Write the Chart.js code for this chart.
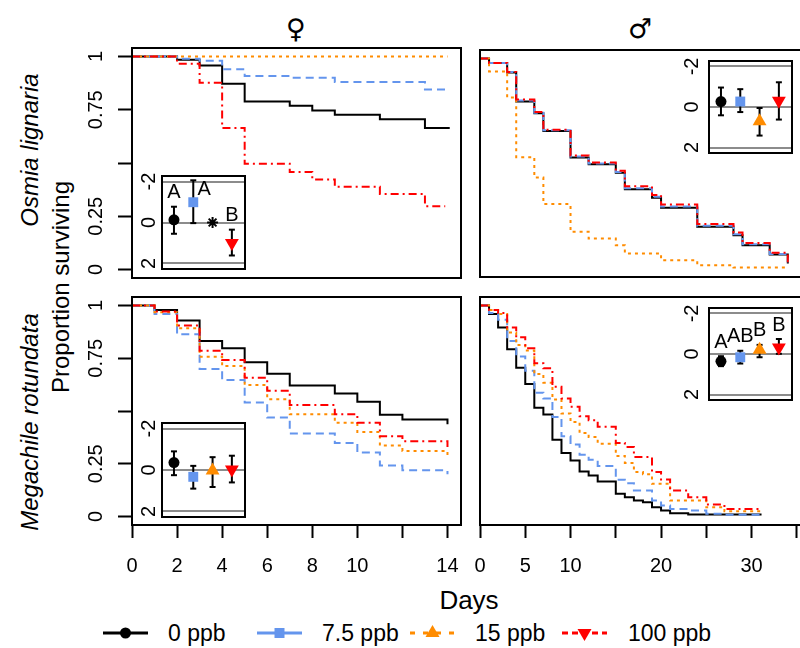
<!DOCTYPE html>
<html>
<head>
<meta charset="utf-8">
<script src="https://cdn.jsdelivr.net/npm/chart.js@4.4.1/dist/chart.umd.min.js"></script>
<style>
  html, body { margin: 0; padding: 0; background: #fff; overflow: hidden; }
  #wrap { position: relative; width: 800px; height: 648px; overflow: hidden; background: #fff;
          font-family: "Liberation Sans", Arial, Helvetica, sans-serif; color: #000; }
  #wrap canvas { position: absolute; left: 0; top: 0; }
  .lbl { position: absolute; white-space: nowrap; line-height: 1; transform: translate(-50%, -50%); }
  .rot { transform: translate(-50%, -50%) rotate(-90deg); }
  .leg { position: absolute; white-space: nowrap; line-height: 1; font-size: 23px; transform: translateY(-50%); }
</style>
</head>
<body>
<div id="wrap">
  <div class="lbl" style="left:296px; top:28px; font: 27px 'DejaVu Sans';">♀</div>
  <div class="lbl" style="left:640px; top:28px; font: 27px 'DejaVu Sans';">♂</div>
  <div class="lbl rot" style="left:30px; top:150px; font-size:24px; font-style:italic;">Osmia lignaria</div>
  <div class="lbl rot" style="left:61px; top:287px; font-size:24px;">Proportion surviving</div>
  <div class="lbl rot" style="left:30px; top:422px; font-size:24px; font-style:italic;">Megachile rotundata</div>
  <div class="lbl" style="left:469px; top:600px; font-size:26px;">Days</div>
  <div class="leg" style="left:168px; top:633px;">0 ppb</div>
  <div class="leg" style="left:322px; top:633px;">7.5 ppb</div>
  <div class="leg" style="left:475px; top:633px;">15 ppb</div>
  <div class="leg" style="left:628px; top:633px;">100 ppb</div>
</div>
<script>
// ---------- data ----------
const groups = ['0 ppb', '7.5 ppb', '15 ppb', '100 ppb'];
const colors = ['#000000', '#6495ED', '#FF8C00', '#FF0000'];

// Osmia lignaria, females
const osmiaFemaleDays = [
  [0, 2, 3, 4, 5, 7, 8, 9, 11, 13, 14.1],
  [0, 2, 3, 4, 5, 7, 9, 13, 14.1],
  [0, 14],
  [0, 2, 3, 4, 5, 7, 8, 9, 11, 13, 13.9]
];
const osmiaFemaleSurv = [
  [1, 0.985, 0.958, 0.872, 0.789, 0.769, 0.747, 0.727, 0.705, 0.664, 0.664],
  [1, 0.99, 0.98, 0.94, 0.908, 0.9, 0.88, 0.845, 0.845],
  [1, 1],
  [1, 0.966, 0.877, 0.664, 0.497, 0.458, 0.423, 0.388, 0.355, 0.297, 0.297]
];

// Osmia lignaria, males
const osmiaMaleDays = [
  [0, 1, 3, 4, 6, 7, 10, 12, 15, 16, 19, 20, 24, 28, 29, 32, 34],
  [0, 1, 3, 4, 6, 7, 10, 12, 15, 16, 19, 20, 24, 28, 29, 32, 34],
  [0, 1, 3, 4, 6, 7, 10, 12, 15, 16, 20, 24, 28, 33.7],
  [0, 1, 3, 4, 6, 7, 10, 12, 15, 16, 19, 20, 24, 28, 29, 32, 34]
];
const osmiaMaleSurv = [
  [1, 0.978, 0.933, 0.795, 0.739, 0.655, 0.528, 0.496, 0.456, 0.377, 0.337, 0.29, 0.199, 0.159, 0.111, 0.067, 0.024],
  [1, 0.978, 0.935, 0.8, 0.742, 0.658, 0.533, 0.5, 0.46, 0.382, 0.342, 0.295, 0.204, 0.163, 0.116, 0.07, 0.03],
  [1, 0.938, 0.814, 0.53, 0.433, 0.307, 0.175, 0.143, 0.111, 0.072, 0.04, 0.016, 0.005, 0.005],
  [1, 0.978, 0.935, 0.805, 0.745, 0.66, 0.538, 0.505, 0.465, 0.392, 0.35, 0.305, 0.212, 0.172, 0.122, 0.075, 0.03]
];

// Megachile rotundata, females
const megaFemaleDays = [
  [0, 1, 2, 3, 4, 5, 6, 7, 9, 10, 11, 12, 14],
  [0, 1, 2, 3, 4, 5, 6, 7, 9, 10, 11, 12, 14],
  [0, 1, 2, 3, 4, 5, 6, 7, 9, 10, 11, 12, 14],
  [0, 1, 2, 3, 4, 5, 6, 7, 9, 10, 11, 12, 14]
];
const megaFemaleSurv = [
  [1, 0.979, 0.929, 0.832, 0.797, 0.731, 0.677, 0.621, 0.583, 0.544, 0.482, 0.46, 0.437],
  [1, 0.959, 0.864, 0.699, 0.647, 0.54, 0.469, 0.393, 0.349, 0.303, 0.242, 0.219, 0.2],
  [1, 0.968, 0.892, 0.757, 0.713, 0.623, 0.556, 0.485, 0.444, 0.4, 0.336, 0.311, 0.29],
  [1, 0.971, 0.905, 0.785, 0.742, 0.658, 0.596, 0.528, 0.485, 0.444, 0.38, 0.357, 0.33]
];

// Megachile rotundata, males
const megaMaleDays = [
  [0, 1, 2, 3, 4, 5, 6, 7, 8, 9, 10, 11, 12, 13, 15, 16, 17, 18, 19, 20, 21, 23, 31.1],
  [0, 1, 2, 3, 4, 5, 6, 7, 8, 9, 10, 11, 12, 13, 15, 16, 17, 19, 20, 21, 23, 25, 27, 31.1],
  [0, 1, 2, 3, 4, 5, 6, 7, 8, 9, 10, 11, 12, 13, 15, 16, 17, 18, 19, 21, 25, 27, 31.1],
  [0, 1, 2, 3, 4, 5, 6, 7, 8, 9, 10, 11, 12, 13, 15, 16, 17, 19, 20, 21, 23, 25, 27, 31.1]
];
const megaMaleSurv = [
  [1, 0.959, 0.895, 0.792, 0.705, 0.628, 0.515, 0.483, 0.364, 0.301, 0.266, 0.214, 0.195, 0.166, 0.108, 0.092, 0.076, 0.068, 0.044, 0.029, 0.016, 0.01, 0.01],
  [1, 0.964, 0.932, 0.832, 0.758, 0.691, 0.586, 0.559, 0.472, 0.38, 0.341, 0.293, 0.269, 0.239, 0.174, 0.158, 0.124, 0.076, 0.052, 0.036, 0.029, 0.013, 0.008, 0.008],
  [1, 0.979, 0.959, 0.872, 0.813, 0.786, 0.675, 0.634, 0.555, 0.488, 0.448, 0.396, 0.377, 0.345, 0.287, 0.254, 0.211, 0.2, 0.155, 0.076, 0.044, 0.025, 0.025],
  [1, 0.979, 0.964, 0.895, 0.849, 0.797, 0.726, 0.702, 0.615, 0.559, 0.52, 0.475, 0.456, 0.425, 0.349, 0.33, 0.282, 0.211, 0.176, 0.124, 0.092, 0.057, 0.036, 0.036]
];

// inset effects (estimate, lower/upper bound), y axis is reversed
const osmiaFemaleEff = [-0.13, -0.99, 0, 1.0];
const osmiaFemaleLo = [-0.77, -2.06, null, 0.35];
const osmiaFemaleHi = [0.55, 0.03, null, 1.61];
const osmiaFemaleLetters = ['A', 'A', '', 'B'];

const osmiaMaleEff = [-0.27, -0.27, 0.7, -0.31];
const osmiaMaleLo = [-0.96, -0.88, 0.05, -1.22];
const osmiaMaleHi = [0.41, 0.25, 1.41, 0.62];
const osmiaMaleLetters = ['', '', '', ''];

const megaFemaleEff = [-0.36, 0.33, 0.03, -0.03];
const megaFemaleLo = [-0.9, -0.2, -0.62, -0.69];
const megaFemaleHi = [0.25, 0.9, 0.82, 0.6];
const megaFemaleLetters = ['', '', '', ''];

const megaMaleEff = [0.36, 0.16, -0.21, -0.32];
const megaMaleLo = [0.11, -0.16, -0.45, -0.74];
const megaMaleHi = [0.6, 0.47, 0.16, -0.01];
const megaMaleLetters = ['A', 'AB', 'B', 'B'];

// ticks
const leftDayTicks = [0, 2, 4, 6, 8, 10, 12, 14];
const leftDayLabels = ['0', '2', '4', '6', '8', '10', '', '14'];
const rightDayTicks = [0, 5, 10, 15, 20, 25, 30, 35];
const rightDayLabels = ['0', '5', '10', '', '20', '', '30', ''];
const survTicks = [0, 0.25, 0.5, 0.75, 1];
const survLabels = ['0', '0.25', '', '0.75', '1'];
const insetTicks = [-2, 0, 2];
const insetLabels = ['-2', '0', '2'];

// ---------- drawing ----------
const W = 830, H = 648;
const FONT = '"Liberation Sans", Arial, Helvetica, sans-serif';
const dashes = [[], [8, 5], [3, 4], [8, 4, 2, 4]];
const wrap = document.getElementById('wrap');

function addCanvas() {
  const c = document.createElement('canvas');
  c.width = W; c.height = H;
  wrap.appendChild(c);
  return c;
}

function framePlugin(lw, fill) {
  return {
    id: 'frame',
    beforeDraw(chart) {
      if (!fill) return;
      const a = chart.chartArea, ctx = chart.ctx;
      ctx.save(); ctx.fillStyle = '#fff';
      ctx.fillRect(a.left, a.top, a.right - a.left, a.bottom - a.top);
      ctx.restore();
    },
    afterDraw(chart) {
      const a = chart.chartArea, ctx = chart.ctx;
      ctx.save(); ctx.strokeStyle = '#000'; ctx.lineWidth = lw;
      ctx.strokeRect(a.left, a.top, a.right - a.left, a.bottom - a.top);
      ctx.restore();
    }
  };
}

function survivalPanel(box, days, surv, o) {
  const datasets = days.map((d, g) => ({
    label: groups[g],
    data: d.map((t, i) => ({ x: t, y: surv[g][i] })),
    borderColor: colors[g],
    borderWidth: 2,
    borderDash: dashes[g],
    stepped: 'before',
    pointRadius: 0,
    fill: false,
    order: 4 - g
  }));
  new Chart(addCanvas(), {
    type: 'line',
    data: { datasets },
    options: {
      responsive: false, animation: false, devicePixelRatio: 1,
      layout: { padding: { left: o.yAxis ? 0 : box.l, top: box.t, right: W - box.r,
                           bottom: H - box.b - (o.xAxis ? 60 : 0) } },
      plugins: { legend: { display: false }, tooltip: { enabled: false } },
      scales: {
        x: {
          type: 'linear', min: 0, max: o.xMax, display: !!o.xAxis,
          afterBuildTicks: s => { s.ticks = o.xTicks.map(v => ({ value: v })); },
          afterFit: s => { s.height = o.xAxis ? 60 : 0; },
          grid: { drawOnChartArea: false, drawTicks: true, tickLength: 13, tickWidth: 2, tickColor: '#000' },
          border: { display: false },
          ticks: { autoSkip: false, minRotation: 0, maxRotation: 0, padding: 16, color: '#000',
                   font: { family: FONT, size: 20 }, callback: (v, i) => o.xLabels[i] }
        },
        y: {
          type: 'linear', min: -0.04, max: 1.04, display: !!o.yAxis,
          afterBuildTicks: s => { s.ticks = survTicks.map(v => ({ value: v })); },
          afterFit: s => { s.width = o.yAxis ? box.l : 0; },
          grid: { drawOnChartArea: false, drawTicks: true, tickLength: 14, tickWidth: 2, tickColor: '#000' },
          border: { display: false },
          ticks: { autoSkip: false, minRotation: 90, maxRotation: 90, crossAlign: 'center', padding: 2,
                   color: '#000', font: { family: FONT, size: 20 }, callback: (v, i) => survLabels[i] }
        }
      }
    },
    plugins: [framePlugin(2, false)]
  });
}

function insetPanel(box, eff, lo, hi, letters, labelPad) {
  const xs = eff.map((e, i) => i + 1);
  const noBar = lo.map(v => v === null);
  const bars = [], caps = [];
  xs.forEach((x, i) => {
    if (noBar[i]) return;
    bars.push({ x, y: lo[i] }, { x, y: hi[i] }, { x, y: null });
    caps.push({ x, y: lo[i] }, { x, y: hi[i] });
  });
  const letterPlugin = {
    id: 'letters',
    afterDatasetsDraw(chart) {
      const ctx = chart.ctx, sx = chart.scales.x, sy = chart.scales.y;
      ctx.save();
      ctx.fillStyle = '#000'; ctx.font = '20px ' + FONT;
      ctx.textAlign = 'center'; ctx.textBaseline = 'middle';
      letters.forEach((t, i) => {
        if (!t) return;
        const top = sy.getPixelForValue(lo[i]);
        if (top - sy.top < 18) {
          ctx.fillText(t, sx.getPixelForValue(xs[i]) + 11, top + 9);
        } else {
          ctx.fillText(t, sx.getPixelForValue(xs[i]), top - 14);
        }
      });
      ctx.restore();
    }
  };
  new Chart(addCanvas(), {
    type: 'scatter',
    data: {
      datasets: [
        {
          data: xs.map((x, i) => ({ x, y: eff[i] })),
          pointStyle: xs.map((x, i) => noBar[i] ? 'star' : ['circle', 'rect', 'triangle', 'triangle'][i]),
          pointRotation: [0, 0, 0, 180],
          pointRadius: xs.map((x, i) => noBar[i] ? 5.5 : [5.5, 7, 8, 8][i]),
          pointBackgroundColor: colors,
          pointBorderColor: xs.map((x, i) => noBar[i] ? '#000' : colors[i]),
          pointBorderWidth: xs.map((x, i) => noBar[i] ? 2 : 0),
          order: 0
        },
        {
          data: caps, pointStyle: 'line', pointRadius: 3,
          pointBorderColor: '#000', pointBorderWidth: 2, order: 1
        },
        {
          data: bars, showLine: true, spanGaps: false, borderColor: '#000', borderWidth: 2,
          pointRadius: 0, order: 2
        }
      ]
    },
    options: {
      responsive: false, animation: false, devicePixelRatio: 1,
      layout: { padding: { left: 0, top: box.t, right: W - box.r, bottom: H - box.b } },
      plugins: { legend: { display: false }, tooltip: { enabled: false } },
      scales: {
        x: { type: 'linear', min: 0.38, max: 4.68, display: false },
        y: {
          type: 'linear', min: -2.27, max: 2.27, reverse: true,
          afterBuildTicks: s => { s.ticks = insetTicks.map(v => ({ value: v })); },
          afterFit: s => { s.width = box.l; },
          grid: { color: '#8c8c8c', lineWidth: 2, drawTicks: false },
          border: { display: false },
          ticks: { autoSkip: false, minRotation: 90, maxRotation: 90, crossAlign: 'center', padding: labelPad,
                   color: '#000', font: { family: FONT, size: 20 }, callback: (v, i) => insetLabels[i] }
        }
      }
    },
    plugins: [framePlugin(2, true), letterPlugin]
  });
}

survivalPanel({ l: 132, t: 48, r: 461, b: 278 }, osmiaFemaleDays, osmiaFemaleSurv,
  { yAxis: true, xAxis: false, xMax: 14.6, xTicks: leftDayTicks, xLabels: leftDayLabels });
survivalPanel({ l: 480, t: 50, r: 824, b: 277 }, osmiaMaleDays, osmiaMaleSurv,
  { yAxis: false, xAxis: false, xMax: 38, xTicks: rightDayTicks, xLabels: rightDayLabels });
survivalPanel({ l: 132, t: 297, r: 461, b: 525 }, megaFemaleDays, megaFemaleSurv,
  { yAxis: true, xAxis: true, xMax: 14.6, xTicks: leftDayTicks, xLabels: leftDayLabels });
survivalPanel({ l: 480, t: 297, r: 824, b: 525 }, megaMaleDays, megaMaleSurv,
  { yAxis: false, xAxis: true, xMax: 38, xTicks: rightDayTicks, xLabels: rightDayLabels });

insetPanel({ l: 162, t: 176, r: 245, b: 269 }, osmiaFemaleEff, osmiaFemaleLo, osmiaFemaleHi, osmiaFemaleLetters, 4);
insetPanel({ l: 709, t: 61, r: 792, b: 153 }, osmiaMaleEff, osmiaMaleLo, osmiaMaleHi, osmiaMaleLetters, 8);
insetPanel({ l: 162, t: 423, r: 245, b: 517 }, megaFemaleEff, megaFemaleLo, megaFemaleHi, megaFemaleLetters, 4);
insetPanel({ l: 709, t: 308, r: 792, b: 400 }, megaMaleEff, megaMaleLo, megaMaleHi, megaMaleLetters, 8);

// legend keys (line + symbol)
(function legendKeys() {
  const ctx = addCanvas().getContext('2d');
  const y = 633, starts = [103, 257, 410, 562], keyDash = [[], [], [5, 8], [6, 4]];
  groups.forEach((g, i) => {
    const x0 = starts[i], cx = x0 + 22.5;
    ctx.save();
    ctx.strokeStyle = colors[i]; ctx.lineWidth = 3; ctx.setLineDash(keyDash[i]);
    ctx.beginPath(); ctx.moveTo(x0, y); ctx.lineTo(x0 + 45, y); ctx.stroke();
    ctx.fillStyle = colors[i];
    ctx.beginPath();
    if (i === 0) ctx.arc(cx, y, 5.5, 0, Math.PI * 2);
    else if (i === 1) ctx.rect(cx - 5, y - 5, 10, 10);
    else if (i === 2) { ctx.moveTo(cx, y - 8); ctx.lineTo(cx + 7, y + 4); ctx.lineTo(cx - 7, y + 4); }
    else { ctx.moveTo(cx, y + 8); ctx.lineTo(cx + 7, y - 4); ctx.lineTo(cx - 7, y - 4); }
    ctx.closePath(); ctx.fill();
    ctx.restore();
  });
})();
</script>
</body>
</html>
